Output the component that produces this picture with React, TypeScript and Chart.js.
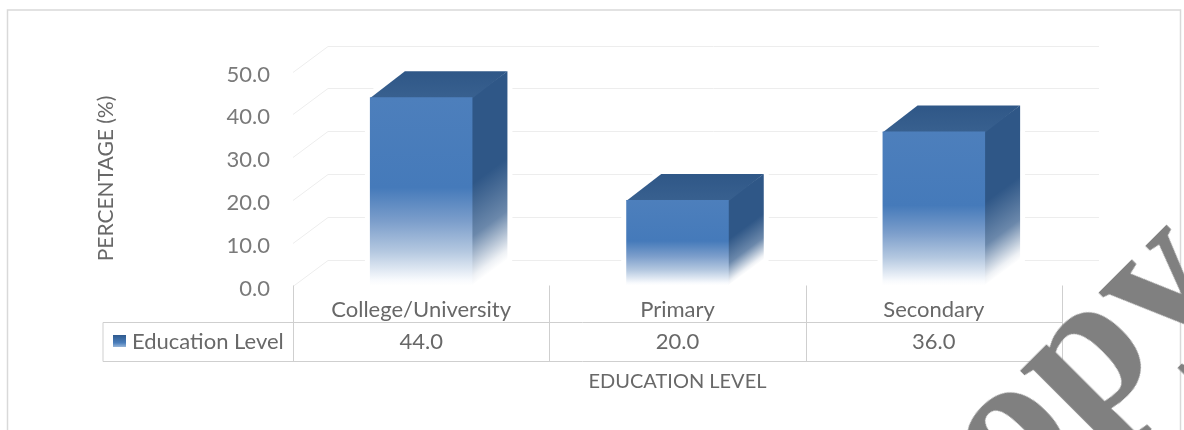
import React, { useEffect, useRef } from "react";
import { Chart, registerables } from "chart.js";

Chart.register(...registerables);

const categories = ["College/University", "Primary", "Secondary"];
const seriesName = "Education Level";
const values = [44.0, 20.0, 36.0];
const yTickStep = 10;
const yMax = 50;
const xTitle = "EDUCATION LEVEL";
const yTitle = "PERCENTAGE (%)";
const watermark = "Copy";

const FONT = "Lato, Carlito, 'Open Sans', sans-serif";
const TEXT = "#686868";
const TICK_TEXT = "#7a7a7a";
const DX = 35;
const DY = 26;

function frontGradient(ctx: CanvasRenderingContext2D, top: number, bottom: number) {
  const g = ctx.createLinearGradient(0, top, 0, bottom);
  g.addColorStop(0, "#4d7fbc");
  g.addColorStop(0.48, "#457aba");
  g.addColorStop(0.66, "#7c9ecb");
  g.addColorStop(0.82, "#b4c8e0");
  g.addColorStop(0.97, "#f8fafd");
  g.addColorStop(1, "#ffffff");
  return g;
}

const decor = {
  id: "decor",
  beforeDatasetsDraw(chart: any) {
    const { ctx, chartArea, scales } = chart;
    const y = scales.y;
    ctx.save();
    // frame
    ctx.strokeStyle = "#d9d9d9";
    ctx.lineWidth = 1.5;
    ctx.beginPath();
    ctx.moveTo(7.5, 431);
    ctx.lineTo(7.5, 10);
    ctx.lineTo(1180.5, 10);
    ctx.lineTo(1180.5, 431);
    ctx.stroke();
    // back wall grid
    ctx.strokeStyle = "#ededed";
    ctx.lineWidth = 1;
    for (let v = 0; v <= yMax; v += yTickStep) {
      const py = Math.round(y.getPixelForValue(v)) + 0.5;
      ctx.beginPath();
      ctx.moveTo(chartArea.left, py);
      ctx.lineTo(chartArea.left + DX, py - DY);
      ctx.lineTo(chartArea.right + 37, py - DY);
      ctx.stroke();
    }
    // data table
    const x = scales.x;
    const tableLeft = 103;
    const rowLine = 322.5;
    const tableBottom = 361.5;
    ctx.strokeStyle = "#cfcfcf";
    ctx.beginPath();
    ctx.moveTo(tableLeft, rowLine);
    ctx.lineTo(chartArea.right, rowLine);
    ctx.moveTo(tableLeft, rowLine);
    ctx.lineTo(tableLeft, tableBottom);
    ctx.lineTo(chartArea.right, tableBottom);
    const step = (chartArea.right - chartArea.left) / categories.length;
    categories.forEach((_, i) => {
      const lx = Math.round(x.getPixelForValue(i) - step / 2) + 0.5;
      ctx.moveTo(lx, chartArea.bottom);
      ctx.lineTo(lx, tableBottom);
    });
    const rx = Math.round(chartArea.right) + 0.5;
    ctx.moveTo(rx, chartArea.bottom);
    ctx.lineTo(rx, tableBottom);
    ctx.stroke();
    // table text
    ctx.fillStyle = TEXT;
    ctx.font = `22px ${FONT}`;
    ctx.textBaseline = "middle";
    ctx.textAlign = "center";
    values.forEach((v, i) => ctx.fillText(v.toFixed(1), x.getPixelForValue(i), 342));
    ctx.textAlign = "left";
    ctx.fillText(seriesName, 132, 342);
    const kg = ctx.createLinearGradient(0, 335, 0, 348);
    kg.addColorStop(0, "#2f5a8e");
    kg.addColorStop(0.6, "#4a7ebb");
    kg.addColorStop(1, "#a9c2df");
    ctx.fillStyle = kg;
    ctx.fillRect(113, 335, 13, 12);
    // white halo behind the bars, then the depth faces
    const meta = chart.getDatasetMeta(0);
    meta.data.forEach((bar: any) => {
      const l = bar.x - bar.width / 2;
      const r = bar.x + bar.width / 2;
      const t = bar.y;
      const b = bar.base;
      bar.options = { ...bar.options, backgroundColor: frontGradient(ctx, t, b) };
      ctx.strokeStyle = "#ffffff";
      ctx.fillStyle = "#ffffff";
      ctx.lineWidth = 10;
      ctx.lineJoin = "round";
      ctx.beginPath();
      ctx.moveTo(l, t);
      ctx.lineTo(l + DX, t - DY);
      ctx.lineTo(r + DX, t - DY);
      ctx.lineTo(r + DX, b - DY);
      ctx.lineTo(r, b);
      ctx.lineTo(l, b);
      ctx.closePath();
      ctx.stroke();
      ctx.fill();
      // right face: fade runs square to its slanted lower edge
      const h = b - t;
      const len = Math.hypot(DX, DY);
      const nx = DY / len;
      const ny = DX / len;
      const reach = h * (DX / len);
      const sg = ctx.createLinearGradient(r - nx * reach, b - ny * reach, r, b);
      sg.addColorStop(0, "#2f5787");
      sg.addColorStop(0.46, "#2f5787");
      sg.addColorStop(0.74, "#6b88ab");
      sg.addColorStop(0.95, "#eef1f5");
      sg.addColorStop(1, "#ffffff");
      ctx.fillStyle = sg;
      ctx.beginPath();
      ctx.moveTo(r - 1, t);
      ctx.lineTo(r + DX, t - DY);
      ctx.lineTo(r + DX, b - DY);
      ctx.lineTo(r - 1, b);
      ctx.closePath();
      ctx.fill();
      // top face
      const tg = ctx.createLinearGradient(0, t - DY, 0, t);
      tg.addColorStop(0, "#2f5787");
      tg.addColorStop(1, "#38608f");
      ctx.fillStyle = tg;
      ctx.beginPath();
      ctx.moveTo(l, t + 1);
      ctx.lineTo(l + DX, t - DY);
      ctx.lineTo(r + DX, t - DY);
      ctx.lineTo(r, t + 1);
      ctx.closePath();
      ctx.fill();
    });
    ctx.restore();
  },
};

export default function App() {
  const ref = useRef<HTMLCanvasElement | null>(null);
  useEffect(() => {
    document.body.style.margin = "0";
    document.body.style.background = "#fff";
    const chart = new Chart(ref.current as HTMLCanvasElement, {
      type: "bar",
      plugins: [decor],
      data: {
        labels: categories,
        datasets: [
          {
            label: seriesName,
            data: values,
            barPercentage: 0.4,
            categoryPercentage: 1,
            borderWidth: 0,
            backgroundColor: "#4a7ebb",
          },
        ],
      },
      options: {
        animation: false,
        responsive: false,
        devicePixelRatio: 1,
        layout: { padding: { top: 71.5, right: 122, left: 0, bottom: 0 } },
        plugins: { legend: { display: false }, tooltip: { enabled: false } },
        scales: {
          x: {
            afterFit: (s: any) => {
              s.height = 144.5;
            },
            grid: { display: false, drawTicks: false },
            border: { display: false },
            ticks: { color: TEXT, font: { family: FONT, size: 22 }, padding: 11, maxRotation: 0 },
            title: {
              display: true,
              text: xTitle,
              color: TEXT,
              font: { family: FONT, size: 20 },
              padding: { top: 0, bottom: 36 },
            },
          },
          y: {
            min: 0,
            max: yMax,
            afterFit: (s: any) => {
              s.width = 293;
            },
            grid: { display: false, drawTicks: false },
            border: { display: false },
            ticks: {
              stepSize: yTickStep,
              color: TICK_TEXT,
              font: { family: FONT, size: 22 },
              padding: 23,
              labelOffset: 3,
              callback: (v: any) => Number(v).toFixed(1),
            },
            title: {
              display: true,
              text: yTitle,
              color: TEXT,
              font: { family: FONT, size: 21 },
              padding: { top: 94, bottom: 0 },
            },
          },
        },
      } as any,
    });
    return () => chart.destroy();
  }, []);
  return (
    <div style={{ position: "relative", width: 1184, height: 430, overflow: "hidden", background: "#fff" }}>
      <canvas ref={ref} width={1184} height={430} style={{ display: "block", width: 1184, height: 430, filter: "blur(0.7px)" }} />
      <div
        style={{
          position: "absolute",
          left: 934,
          top: 434,
          transformOrigin: "0 100%",
          transform: "rotate(-45deg)",
          font: "bold 200px 'Liberation Serif', serif",
          color: "#808080",
          lineHeight: 1,
          whiteSpace: "nowrap",
        }}
      >
        {watermark}
      </div>
    </div>
  );
}
